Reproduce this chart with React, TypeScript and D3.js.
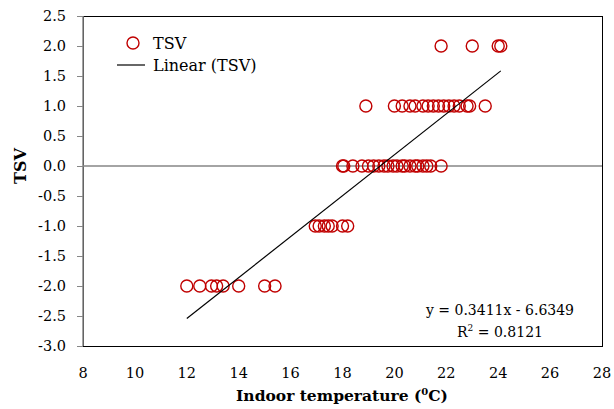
import React from "react";
import * as d3 from "d3";

// Indoor temperature (°C) and thermal sensation vote (TSV) observations
const tempTSVm2 = [12.0, 12.5, 12.95, 13.15, 13.4, 14.0, 15.0, 15.4];
const tempTSVm1 = [16.95, 17.1, 17.3, 17.45, 17.6, 18.0, 18.2];
const tempTSV0 = [18.0, 18.05, 18.4, 18.75, 19.0, 19.2, 19.4, 19.6, 19.75, 19.95, 20.1, 20.3, 20.4, 20.6, 20.8, 20.9, 21.1, 21.25, 21.4, 21.8];
const tempTSV1 = [18.9, 20.0, 20.3, 20.6, 20.8, 21.1, 21.3, 21.5, 21.7, 21.9, 22.1, 22.3, 22.5, 22.8, 22.9, 23.5];
const tempTSV2 = [21.8, 23.0, 24.0, 24.1];

const tsvLevels = [-2, -1, 0, 1, 2];
const tempsByLevel = [tempTSVm2, tempTSVm1, tempTSV0, tempTSV1, tempTSV2];

// Linear fit
const slope = 0.3411;
const intercept = -6.6349;
const rSquared = 0.8121;

const xTicks = [8, 10, 12, 14, 16, 18, 20, 22, 24, 26, 28];
const yTicks = [-3.0, -2.5, -2.0, -1.5, -1.0, -0.5, 0.0, 0.5, 1.0, 1.5, 2.0, 2.5];

const W = 614;
const H = 409;
const plot = { left: 83, right: 602, top: 16, bottom: 346 };
const FONT = "'DejaVu Serif', serif";
const RED = "#C00000";

export default function App() {
  const x = d3.scaleLinear().domain([8, 28]).range([plot.left, plot.right]);
  const y = d3.scaleLinear().domain([-3, 2.5]).range([plot.bottom, plot.top]);

  const points = tsvLevels.flatMap((v, i) => tempsByLevel[i].map((t) => ({ t, v })));
  const allTemps = points.map((p) => p.t);
  const tMin = d3.min(allTemps) as number;
  const tMax = d3.max(allTemps) as number;
  const fitLine = d3.line<number>()
    .x((t) => x(t))
    .y((t) => y(slope * t + intercept))([tMin, tMax]);

  return (
    <svg width={W} height={H} style={{ position: "absolute", left: 0, top: 0 }} fontFamily={FONT}>
      <rect x={0} y={0} width={W} height={H} fill="#fff" />
      {/* plot frame */}
      <rect x={plot.left} y={plot.top} width={plot.right - plot.left} height={plot.bottom - plot.top}
        fill="none" stroke="#000" strokeWidth={1} shapeRendering="crispEdges" />
      {/* y axis */}
      <line x1={plot.left} x2={plot.left} y1={plot.top} y2={plot.bottom} stroke="#868686" strokeWidth={1.5} />
      {yTicks.map((v) => (
        <g key={v}>
          <line x1={plot.left - 6} x2={plot.left} y1={y(v)} y2={y(v)} stroke="#868686" strokeWidth={1} shapeRendering="crispEdges" />
          <text x={66} y={y(v) + 5} textAnchor="end" fontSize={14.5} fill="#000">{v.toFixed(1)}</text>
        </g>
      ))}
      {/* x axis crossing at TSV = 0 */}
      <line x1={plot.left} x2={plot.right} y1={y(0)} y2={y(0)} stroke="#868686" strokeWidth={1.5} />
      {xTicks.map((v) => (
        <text key={v} x={x(v)} y={378} textAnchor="middle" fontSize={14.5} fill="#000">{v}</text>
      ))}
      {/* axis titles */}
      <text x={342} y={401} textAnchor="middle" fontSize={15.5} fontWeight="bold" fill="#000">
        Indoor temperature (<tspan dy={-6} fontSize={10}>0</tspan><tspan dy={6}>C)</tspan>
      </text>
      <text transform={`translate(26,166) rotate(-90)`} textAnchor="middle" fontSize={16} fontWeight="bold" fill="#000">TSV</text>
      {/* observations */}
      {points.map((p, i) => (
        <circle key={i} cx={x(p.t)} cy={y(p.v)} r={6} fill="none" stroke={RED} strokeWidth={1.4} />
      ))}
      {/* linear trend */}
      <path d={fitLine ?? ""} fill="none" stroke="#000" strokeWidth={1.2} />
      {/* legend */}
      <circle cx={133} cy={43} r={6} fill="none" stroke={RED} strokeWidth={1.4} />
      <text x={153} y={49} fontSize={16} fill="#000">TSV</text>
      <line x1={117} x2={145} y1={65} y2={65} stroke="#000" strokeWidth={1.2} />
      <text x={153} y={71} fontSize={16} fill="#000">Linear (TSV)</text>
      {/* fit equation */}
      <text x={500} y={315} textAnchor="middle" fontSize={14} fill="#000">
        {`y = ${slope.toFixed(4)}x - ${Math.abs(intercept).toFixed(4)}`}
      </text>
      <text x={500} y={337} textAnchor="middle" fontSize={14} fill="#000">
        R<tspan dy={-6} fontSize={9}>2</tspan><tspan dy={6}>{` = ${rSquared.toFixed(4)}`}</tspan>
      </text>
    </svg>
  );
}
